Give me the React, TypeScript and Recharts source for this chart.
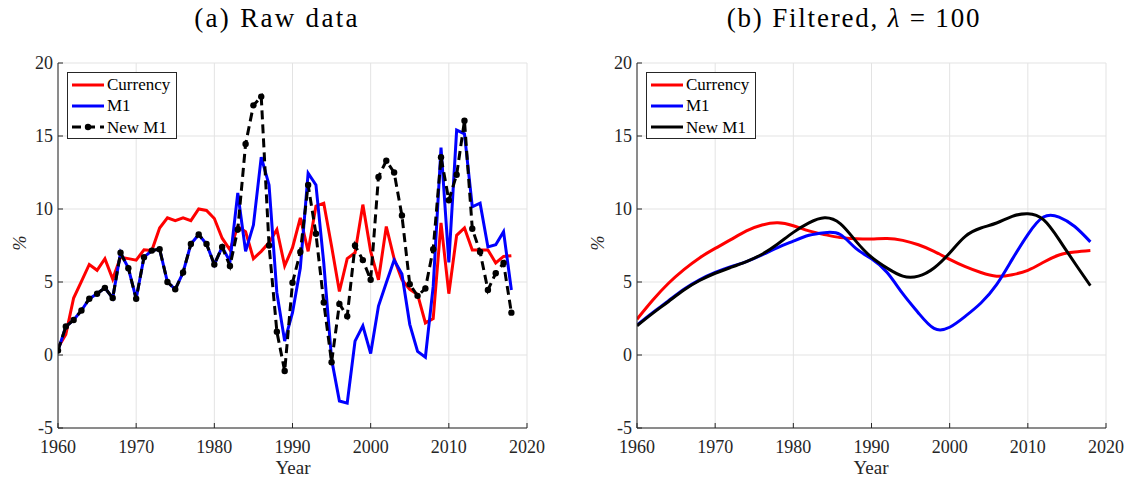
import React from 'react';
import { LineChart, Line, XAxis, YAxis, CartesianGrid, Legend } from 'recharts';

// ---------- Data ----------
const years = [
  1960, 1961, 1962, 1963, 1964, 1965, 1966, 1967, 1968, 1969,
  1970, 1971, 1972, 1973, 1974, 1975, 1976, 1977, 1978, 1979,
  1980, 1981, 1982, 1983, 1984, 1985, 1986, 1987, 1988, 1989,
  1990, 1991, 1992, 1993, 1994, 1995, 1996, 1997, 1998, 1999,
  2000, 2001, 2002, 2003, 2004, 2005, 2006, 2007, 2008, 2009,
  2010, 2011, 2012, 2013, 2014, 2015, 2016, 2017, 2018,
];

const currencyRaw = [
  0.5, 1.4, 3.9, 5.05, 6.2, 5.8, 6.6, 5.2, 6.7, 6.6,
  6.5, 7.2, 7.15, 8.7, 9.4, 9.2, 9.4, 9.2, 10.0, 9.9,
  9.35, 8.0, 7.2, 8.8, 8.45, 6.6, 7.1, 7.7, 8.6, 6.1,
  7.35, 9.4, 7.1, 10.2, 10.4, 7.45, 4.35, 6.6, 7.0, 10.3,
  7.1, 5.15, 8.8, 6.6, 5.15, 4.5, 4.15, 2.2, 2.5, 9.05,
  4.2, 8.2, 8.7, 7.2, 7.2, 7.2, 6.3, 6.75, 6.8,
];

const m1Raw = [
  0.3, 1.95, 2.4, 3.05, 3.85, 4.2, 4.6, 3.9, 7.0, 5.95,
  3.85, 6.7, 7.15, 7.25, 5.0, 4.5, 5.65, 7.6, 8.25, 7.6,
  6.2, 7.4, 6.4, 11.1, 7.1, 8.9, 13.55, 11.65, 4.25, 0.95,
  2.9, 5.95, 12.45, 11.65, 6.3, -0.3, -3.15, -3.3, 0.95, 2.0,
  0.1, 3.35, 4.95, 6.5, 5.55, 2.1, 0.25, -0.15, 4.7, 14.2,
  6.35, 15.4, 15.15, 10.15, 10.4, 7.4, 7.55, 8.45, 4.45,
];

const newM1Raw = [
  0.3, 1.95, 2.4, 3.05, 3.85, 4.2, 4.6, 3.9, 7.0, 5.95,
  3.85, 6.7, 7.15, 7.25, 5.0, 4.5, 5.65, 7.6, 8.25, 7.6,
  6.2, 7.4, 6.1, 8.6, 14.45, 17.1, 17.7, 7.5, 1.6, -1.1,
  4.95, 7.05, 11.65, 8.3, 3.6, -0.5, 3.5, 2.65, 7.5, 6.5,
  5.15, 12.2, 13.3, 12.5, 9.55, 4.85, 4.05, 4.55, 7.25, 13.55,
  10.6, 12.35, 16.05, 8.65, 7.05, 4.45, 5.6, 6.3, 2.9,
];

const filteredYears = [
  1960, 1962, 1964, 1966, 1968, 1970, 1972, 1974, 1976, 1978,
  1980, 1982, 1984, 1986, 1988, 1990, 1992, 1994, 1996, 1998,
  2000, 2002, 2004, 2006, 2008, 2010, 2012, 2014, 2016, 2018,
];

const currencyFiltered = [
  2.45, 3.75, 4.9, 5.85, 6.65, 7.3, 7.9, 8.5, 8.9, 9.05,
  8.85, 8.5, 8.25, 8.05, 7.97, 7.95, 7.98, 7.85, 7.55, 7.1,
  6.55, 6.05, 5.65, 5.4, 5.5, 5.8, 6.35, 6.85, 7.05, 7.15,
];

const m1Filtered = [
  2.05, 2.9, 3.7, 4.5, 5.15, 5.65, 6.05, 6.4, 6.85, 7.35,
  7.8, 8.2, 8.38, 8.25, 7.3, 6.6, 5.65, 4.2, 2.88, 1.82,
  1.9, 2.65, 3.56, 4.82, 6.55, 8.25, 9.45, 9.45, 8.8, 7.75,
];

const newM1Filtered = [
  2.0, 2.85, 3.65, 4.45, 5.1, 5.6, 6.0, 6.4, 6.9, 7.6,
  8.4, 9.05, 9.4, 9.0, 7.8, 6.7, 5.95, 5.4, 5.4, 5.96,
  6.99, 8.13, 8.7, 9.04, 9.5, 9.68, 9.27, 7.9, 6.3, 4.75,
];

const xTicks = [1960, 1970, 1980, 1990, 2000, 2010, 2020];
const yTicks = [-5, 0, 5, 10, 15, 20];

const rawData = years.map((y, i) => ({
  year: y,
  currency: currencyRaw[i],
  m1: m1Raw[i],
  newM1: newM1Raw[i],
}));

const filteredData = filteredYears.map((y, i) => ({
  year: y,
  currency: currencyFiltered[i],
  m1: m1Filtered[i],
  newM1: newM1Filtered[i],
}));

// ---------- Styles ----------
const AXIS = '#262626';
const GRID = '#e3e3e3';
const SERIF = '"Liberation Serif", "Times New Roman", serif';
const TICK_FONT_SIZE = 18;
const TICK_LEN = 5;

const BottomTick = (p: any) => (
  <g>
    <line x1={p.x} y1={p.y} x2={p.x} y2={p.y - TICK_LEN} stroke={AXIS} strokeWidth={1} />
    <text x={p.x} y={p.y + 25} textAnchor="middle" fontFamily={SERIF} fontSize={TICK_FONT_SIZE} fill={AXIS}>
      {p.payload.value}
    </text>
  </g>
);

const TopTick = (p: any) => (
  <line x1={p.x} y1={p.y} x2={p.x} y2={p.y + TICK_LEN} stroke={AXIS} strokeWidth={1} />
);

const LeftTick = (p: any) => (
  <g>
    <line x1={p.x} y1={p.y} x2={p.x + TICK_LEN} y2={p.y} stroke={AXIS} strokeWidth={1} />
    <text x={p.x - 5} y={p.y + 6} textAnchor="end" fontFamily={SERIF} fontSize={TICK_FONT_SIZE} fill={AXIS}>
      {p.payload.value}
    </text>
  </g>
);

const RightTick = (p: any) => (
  <line x1={p.x} y1={p.y} x2={p.x - TICK_LEN} y2={p.y} stroke={AXIS} strokeWidth={1} />
);

type LegendItem = { name: string; color: string; dashed?: boolean; dot?: boolean };

const LegendBox = ({ items }: { items: LegendItem[] }) => (
  <div
    style={{
      border: `1px solid ${AXIS}`,
      background: '#fff',
      width: 108,
      height: 64,
      boxSizing: 'content-box',
      paddingTop: 1,
      fontFamily: SERIF,
      fontSize: 17,
      color: '#000',
    }}
  >
    {items.map((it) => (
      <div key={it.name} style={{ display: 'flex', alignItems: 'center', height: 21.3 }}>
        <svg width={39} height={12} style={{ flex: 'none' }}>
          <line
            x1={4}
            y1={6}
            x2={36}
            y2={6}
            stroke={it.color}
            strokeWidth={3}
            strokeDasharray={it.dashed ? '9 5' : undefined}
          />
          {it.dot && <circle cx={20} cy={6} r={3.2} fill={it.color} />}
        </svg>
        <span style={{ lineHeight: '21px', whiteSpace: 'nowrap' }}>{it.name}</span>
      </div>
    ))}
  </div>
);

const legendA: LegendItem[] = [
  { name: 'Currency', color: '#ff0000' },
  { name: 'M1', color: '#0000ff' },
  { name: 'New M1', color: '#000000', dashed: true, dot: true },
];
const legendB: LegendItem[] = [
  { name: 'Currency', color: '#ff0000' },
  { name: 'M1', color: '#0000ff' },
  { name: 'New M1', color: '#000000' },
];

function Panel({
  data,
  raw,
  width,
  margin,
  legendPos,
  legendItems,
  curve,
}: {
  data: any[];
  raw: boolean;
  width: number;
  margin: { top: number; right: number; bottom: number; left: number };
  legendPos: { left: number; top: number };
  legendItems: LegendItem[];
  curve: 'linear' | 'natural';
}) {
  return (
    <LineChart width={width} height={479} data={data} margin={margin}>
      <CartesianGrid stroke={GRID} strokeWidth={1} />
      <XAxis
        dataKey="year"
        type="number"
        domain={[1960, 2020]}
        ticks={xTicks}
        height={30}
        tickSize={0}
        tickMargin={0}
        tickLine={false}
        axisLine={{ stroke: AXIS, strokeWidth: 1 }}
        tick={BottomTick}
        interval={0}
        allowDataOverflow
      />
      <XAxis
        xAxisId="top"
        orientation="top"
        dataKey="year"
        type="number"
        domain={[1960, 2020]}
        ticks={xTicks}
        height={0}
        tickSize={0}
        tickMargin={0}
        tickLine={false}
        axisLine={{ stroke: AXIS, strokeWidth: 1 }}
        tick={TopTick}
        interval={0}
        allowDataOverflow
      />
      <YAxis
        type="number"
        domain={[-5, 20]}
        ticks={yTicks}
        width={40}
        tickSize={0}
        tickMargin={0}
        tickLine={false}
        axisLine={{ stroke: AXIS, strokeWidth: 1 }}
        tick={LeftTick}
        interval={0}
        allowDataOverflow
      />
      <YAxis
        yAxisId="right"
        orientation="right"
        type="number"
        domain={[-5, 20]}
        ticks={yTicks}
        width={0}
        tickSize={0}
        tickMargin={0}
        tickLine={false}
        axisLine={{ stroke: AXIS, strokeWidth: 1 }}
        tick={RightTick}
        interval={0}
        allowDataOverflow
      />
      <Legend
        layout="vertical"
        align="center"
        verticalAlign="middle"
        wrapperStyle={{ left: legendPos.left, top: legendPos.top, width: 'auto', height: 'auto' }}
        content={() => <LegendBox items={legendItems} />}
      />
      <Line
        type={curve}
        dataKey="currency"
        stroke="#ff0000"
        strokeWidth={3}
        dot={false}
        isAnimationActive={false}
      />
      <Line
        type={curve}
        dataKey="m1"
        stroke="#0000ff"
        strokeWidth={3}
        dot={false}
        isAnimationActive={false}
      />
      <Line
        type={curve}
        dataKey="newM1"
        stroke="#000000"
        strokeWidth={3}
        strokeDasharray={raw ? '9 5' : undefined}
        dot={raw ? { r: 3.2, fill: '#000', stroke: 'none', strokeDasharray: '' } : false}
        isAnimationActive={false}
      />
    </LineChart>
  );
}

export default function App() {
  return (
    <div
      style={{
        position: 'absolute',
        left: 0,
        top: 0,
        width: 1125,
        height: 479,
        background: '#fff',
        overflow: 'hidden',
      }}
    >
      <div style={{ position: 'absolute', left: 0, top: 0 }}>
        <Panel
          data={rawData}
          raw
          width={560}
          margin={{ top: 63, right: 33, bottom: 21, left: 18 }}
          legendPos={{ left: 67, top: 72 }}
          legendItems={legendA}
          curve="linear"
        />
      </div>
      <div style={{ position: 'absolute', left: 560, top: 0 }}>
        <Panel
          data={filteredData}
          raw={false}
          width={565}
          margin={{ top: 63, right: 19, bottom: 21, left: 37 }}
          legendPos={{ left: 86, top: 72 }}
          legendItems={legendB}
          curve="natural"
        />
      </div>
      <svg
        width={1125}
        height={479}
        style={{ position: 'absolute', left: 0, top: 0, pointerEvents: 'none' }}
      >
        <text x={277} y={27} textAnchor="middle" fontFamily={SERIF} fontSize={27} letterSpacing={2.3} fill="#000">
          (a) Raw data
        </text>
        <text x={854} y={27} textAnchor="middle" fontFamily={SERIF} fontSize={27} letterSpacing={1.8} fill="#000">
          (b) Filtered,{' '}
          <tspan fontStyle="italic">λ</tspan> = 100
        </text>
        <text x={293} y={474} textAnchor="middle" fontFamily={SERIF} fontSize={19} fill={AXIS}>
          Year
        </text>
        <text x={871} y={474} textAnchor="middle" fontFamily={SERIF} fontSize={19} fill={AXIS}>
          Year
        </text>
        <text
          x={20}
          y={243}
          textAnchor="middle"
          dominantBaseline="central"
          fontFamily={SERIF}
          fontSize={18}
          fontStyle="italic"
          fill={AXIS}
          transform="rotate(-90 20 243)"
        >
          %
        </text>
        <text
          x={598}
          y={243}
          textAnchor="middle"
          dominantBaseline="central"
          fontFamily={SERIF}
          fontSize={18}
          fontStyle="italic"
          fill={AXIS}
          transform="rotate(-90 598 243)"
        >
          %
        </text>
      </svg>
    </div>
  );
}
